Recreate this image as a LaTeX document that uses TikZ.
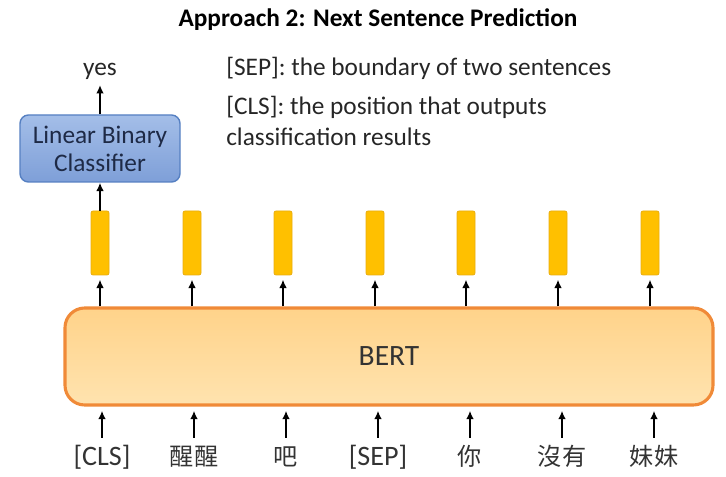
\documentclass[tikz,border=0pt]{standalone}
\usepackage{fontspec}
\setmainfont{Carlito}
\newfontfamily\cjk{Noto Sans CJK TC}[Scale=0.86]
\usetikzlibrary{arrows.meta}

\definecolor{clstop}{HTML}{A4BEE8}
\definecolor{clsbottom}{HTML}{7E9FD8}
\definecolor{clsborder}{HTML}{5680C2}
\definecolor{clstext}{HTML}{1E2A46}
\definecolor{berttop}{HTML}{FFD38A}
\definecolor{bertbottom}{HTML}{FFE3AF}
\definecolor{bertborder}{HTML}{F08A38}
\definecolor{vecfill}{HTML}{FFC000}
\definecolor{vecborder}{HTML}{E9AE10}

\begin{document}
\begin{tikzpicture}

    \useasboundingbox (0,0) rectangle (18.15,11.925);

    % Define styles
    \tikzstyle{classifier} = [
        rectangle, rounded corners=6pt,
        minimum width=4cm, minimum height=1.675cm,
        align=center, draw=clsborder, line width=1pt,
        top color=clstop, bottom color=clsbottom, text=clstext,
        font=\fontsize{18}{20}\selectfont
    ]
    \tikzstyle{encoder} = [
        rectangle, rounded corners=14pt,
        minimum width=16.2cm, minimum height=2.425cm,
        draw=bertborder, line width=2.2pt,
        top color=berttop, bottom color=bertbottom, text=black!80,
        font=\fontsize{21}{24}\selectfont
    ]
    \tikzstyle{vec} = [
        rectangle, rounded corners=1.5pt, inner sep=0pt,
        minimum width=0.45cm, minimum height=1.6cm,
        fill=vecfill, draw=vecborder, line width=0.6pt
    ]
    \tikzstyle{token} = [
        anchor=base, text=black!80, inner sep=3pt,
        text height=17pt, text depth=5pt,
        font=\fontsize{20}{24}\selectfont
    ]
    \tikzstyle{note} = [anchor=north west, align=left, inner sep=0pt,
        text=black!85, font=\fontsize{18}{22}\selectfont]
    \tikzstyle{arrow} = [line width=1.3pt, -{Latex[length=6pt,width=5.5pt]}]

    % Title and notes
    \node[anchor=base, font=\fontsize{18}{22}\selectfont\bfseries] (title)
        at (9.45,11.25) {Approach 2: Next Sentence Prediction};
    \node[note] (sepnote) at (5.65,10.5) {[SEP]: the boundary of two sentences};
    \node[note] (clsnote) at (5.65,9.525) {[CLS]: the position that outputs\\classification results};

    % Nodes
    \node[anchor=base, text=black!85, font=\fontsize{18}{20}\selectfont] (yes) at (2.5,10.025) {yes};
    \node[classifier] (clf) at (2.5,8.2125) {Linear Binary\\Classifier};
    \node[encoder] (bert) at (9.725,3.0125) {BERT};

    \node[vec] (out1) at (2.5,5.85) {};
    \node[vec] (out2) at (4.8,5.85) {};
    \node[vec] (out3) at (7.075,5.85) {};
    \node[vec] (out4) at (9.375,5.85) {};
    \node[vec] (out5) at (11.65,5.85) {};
    \node[vec] (out6) at (13.95,5.85) {};
    \node[vec] (out7) at (16.25,5.85) {};

    \node[token] (tok1) at (2.55,0.275) {[CLS]};
    \node[token] (tok2) at (4.85,0.275) {\cjk 醒醒};
    \node[token] (tok3) at (7.15,0.275) {\cjk 吧};
    \node[token] (tok4) at (9.45,0.275) {[SEP]};
    \node[token] (tok5) at (11.75,0.275) {\cjk 你};
    \node[token] (tok6) at (14.05,0.275) {\cjk 沒有};
    \node[token] (tok7) at (16.35,0.275) {\cjk 妹妹};

    % Arrows
    \draw[arrow] (clf.north) -- (yes.south);
    \draw[arrow] (out1.north) -- (clf.south);
    \foreach \i in {1,...,7} {
        \draw[arrow, shorten >=3pt] (out\i.south |- bert.north) -- (out\i.south);
        \draw[arrow, shorten >=3pt] (tok\i.north) -- (tok\i.north |- bert.south);
    }

\end{tikzpicture}
\end{document}
